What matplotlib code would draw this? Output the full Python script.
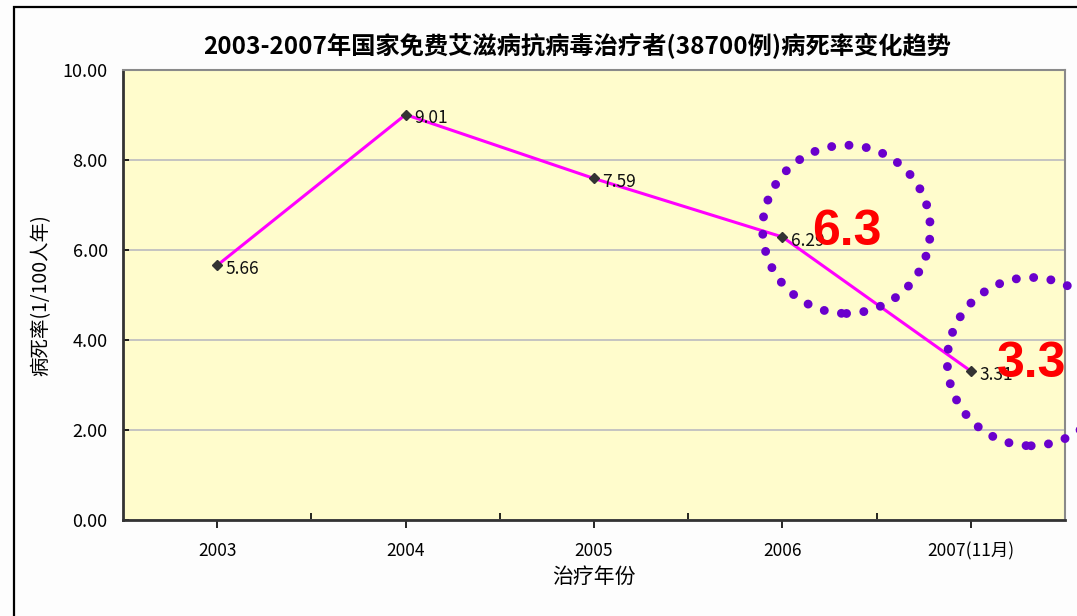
import matplotlib.pyplot as plt
from matplotlib.patches import Ellipse, Rectangle

plt.rcParams['font.family'] = ['Noto Sans CJK SC', 'DejaVu Sans']

# data
years = ['2003', '2004', '2005', '2006', '2007(11月)']
death_rate = [5.66, 9.01, 7.59, 6.29, 3.31]
callout_labels = ['6.3', '3.3']
callout_x = [3.84, 4.82]   # where the red callouts sit (category units)
callout_y = [6.46, 3.52]

fig = plt.figure(figsize=(10.77, 6.16), dpi=100)
fig.patch.set_facecolor('#FDFDFD')
ax = fig.add_axes([0.1142, 0.1558, 0.8747, 0.7305])
ax.set_facecolor('#FFFCCC')

pos = [i + 0.5 for i in range(len(years))]
ax.plot(pos, death_rate, color='#FF00FF', lw=2.2, marker='D', ms=5.5,
        mfc='#333333', mec='#333333', zorder=3)
# value labels
for x, v in zip(pos, death_rate):
    ax.text(x + 0.045, v - 0.08, '%.2f' % v, fontsize=12.5, va='center', ha='left',
            color='#111111', zorder=4)

ax.set_xlim(0, 5)
ax.set_ylim(0, 10)
ax.set_yticks([0, 2, 4, 6, 8, 10])
ax.set_yticklabels(['%.2f' % t for t in [0, 2, 4, 6, 8, 10]], fontsize=13)
ax.set_xticks(pos)
ax.set_xticklabels(years, fontsize=12.5)
ax.set_xticks([1, 2, 3, 4, 5], minor=True)
ax.tick_params(axis='x', which='major', direction='out', length=6, width=1.2, pad=10)
ax.tick_params(axis='x', which='minor', direction='in', length=5, width=1.2)
ax.tick_params(axis='y', direction='in', length=4, width=1.2, pad=11)
ax.yaxis.grid(True, color='#C0C0C0', lw=1.3)
ax.set_axisbelow(True)
for s in ['top', 'right']:
    ax.spines[s].set_color('#8A8A8A')
    ax.spines[s].set_linewidth(1.5)
for s in ['left', 'bottom']:
    ax.spines[s].set_color('#333333')
    ax.spines[s].set_linewidth(2)

ax.set_xlabel('治疗年份', fontsize=15, labelpad=4)
ax.set_ylabel('病死率(1/100人年)', fontsize=14, labelpad=8)
fig.text(0.536, 0.925, '2003-2007年国家免费艾滋病抗病毒治疗者(38700例)病死率变化趋势',
         ha='center', va='center', fontsize=17.5, fontweight='bold')

# dotted purple circles with red callouts
for cx, cy, lab in zip(callout_x, callout_y, callout_labels):
    e = Ellipse((cx, cy), 0.89, 3.74, fill=False, edgecolor='#6A00CC',
                lw=6.4, linestyle=(0, (0.01, 1.95)), capstyle='round',
                clip_on=False, zorder=5)
    ax.add_patch(e)
    ax.text(cx, cy - 0.06, lab, fontsize=36, fontweight='bold', color='#FF0000',
            family='Liberation Sans', ha='center', va='center', zorder=6, clip_on=False)

# outer frame of the slide picture
fig.patches.append(Rectangle((14 / 1077, -0.1), 1.2, 609 / 616 + 0.1,
                             transform=fig.transFigure, fill=False,
                             edgecolor='black', lw=1.6))

fig.savefig('out.png', dpi=100)
